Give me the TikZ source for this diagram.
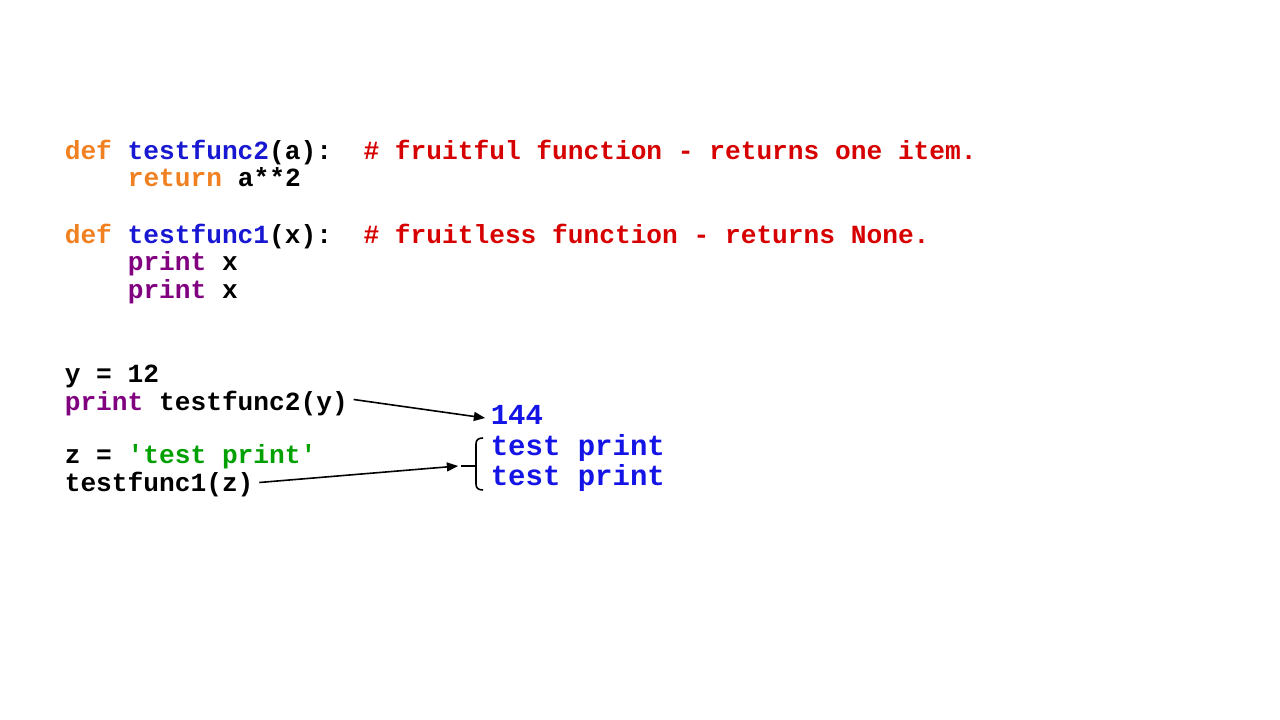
\documentclass[tikz,border=0pt]{standalone}
\usepackage{fontspec}
\usepackage[usenames]{xcolor}
\usepackage{tikz}
\usetikzlibrary{arrows}

\newfontfamily\codefont{Liberation Mono}

\definecolor{kwcol}{RGB}{240,128,32}
\definecolor{fncol}{RGB}{24,24,210}
\definecolor{comcol}{RGB}{214,0,0}
\definecolor{prcol}{RGB}{128,0,128}
\definecolor{strcol}{RGB}{0,160,0}
\definecolor{outcol}{RGB}{20,20,230}

\begin{document}
\begin{tikzpicture}[x=1pt,y=1pt]
\useasboundingbox (0,0) rectangle (1280,720);
\begin{scope}[>=triangle 45,line width=1.6pt,
    code/.style={anchor=base west,inner sep=0pt,text height=15pt,text depth=4pt,
        font=\codefont\bfseries\fontsize{26.2}{30}\selectfont},
    output/.style={code,text=outcol,text height=17pt,text depth=5pt,
        font=\codefont\bfseries\fontsize{29}{32}\selectfont}]

    \node[code] (def2)  at (64,560)  {\textcolor{kwcol}{def} \textcolor{fncol}{testfunc2}(a):~~\textcolor{comcol}{\# fruitful function - returns one item.}};
    \node[code] (ret2)  at (127,533) {\textcolor{kwcol}{return} a**2};

    \node[code] (def1)  at (64,476)  {\textcolor{kwcol}{def} \textcolor{fncol}{testfunc1}(x):~~\textcolor{comcol}{\# fruitless function - returns None.}};
    \node[code] (pr1)   at (127,449) {\textcolor{prcol}{print} x};
    \node[code] (pr2)   at (127,421) {\textcolor{prcol}{print} x};

    \node[code] (ydef)  at (64,337)  {y = 12};
    \node[code] (call2) at (64,309)  {\textcolor{prcol}{print} testfunc2(y)};

    \node[code] (zdef)  at (64,256)  {z = \textcolor{strcol}{'test print'}};
    \node[code] (call1) at (64,228)  {testfunc1(z)};

    \node[output] (out1) at (490,295) {144};
    \node[output] (out2) at (490,264) {test print};
    \node[output] (out3) at (490,234) {test print};

    % brace round the two printed lines
    \coordinate (brace) at (476,254);
    \draw (483,282) .. controls (478,282) and (476,280) .. (476,276) -- (476,236)
          .. controls (476,232) and (478,230) .. (483,230);
    \draw (brace) -- ++(-15,0) coordinate (bracetip);

    \draw[->] ([xshift=5pt,yshift=6pt]call2.east) -- ([xshift=-5pt,yshift=1pt]out1.west);
    \draw[->] ([xshift=5pt,yshift=4pt]call1.east) -- ([xshift=-3pt]bracetip);

\end{scope}
\end{tikzpicture}
\end{document}
